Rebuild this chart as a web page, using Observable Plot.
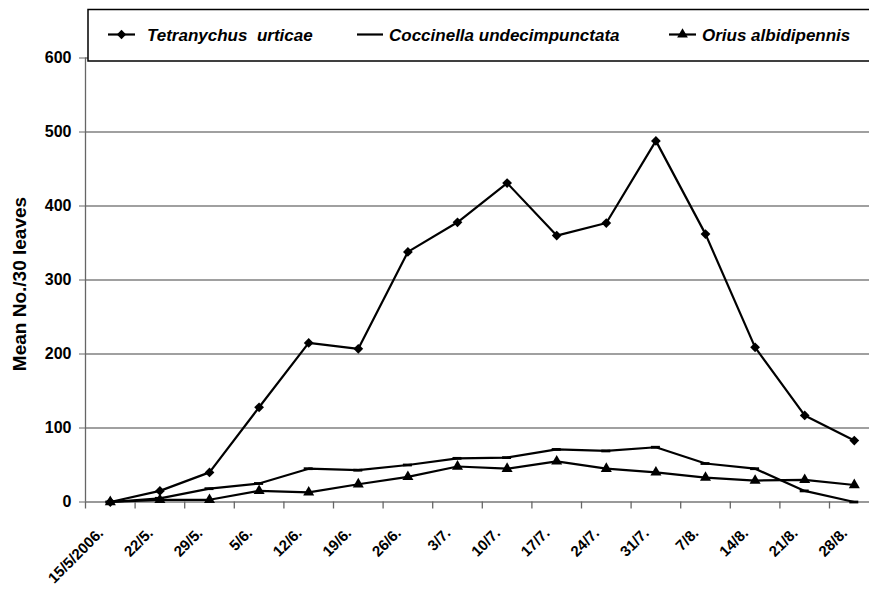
<!DOCTYPE html>
<html>
<head>
<meta charset="utf-8">
<script src="https://cdn.jsdelivr.net/npm/d3@7"></script>
<script src="https://cdn.jsdelivr.net/npm/@observablehq/plot@0.6"></script>
<style>
  html, body { margin: 0; padding: 0; background: white; overflow: hidden; }
  #wrap { position: relative; width: 869px; height: 591px; }
  #legend { position: absolute; left: 0; top: 0; pointer-events: none; }
</style>
</head>
<body>
<div id="wrap"></div>
<script>
// ---- data ----
const dates = ["15/5/2006.", "22/5.", "29/5.", "5/6.", "12/6.", "19/6.", "26/6.", "3/7.",
               "10/7.", "17/7.", "24/7.", "31/7.", "7/8.", "14/8.", "21/8.", "28/8."];
const seriesNames = ["Tetranychus  urticae", "Coccinella undecimpunctata", "Orius albidipennis"];
const tetranychus = [0, 15, 40, 128, 215, 207, 338, 378, 431, 360, 377, 488, 362, 209, 117, 83];
const coccinella  = [0, 5, 18, 25, 45, 43, 50, 59, 60, 71, 69, 74, 52, 45, 15, 0];
const orius       = [0, 3, 3, 15, 13, 24, 34, 48, 45, 55, 45, 40, 33, 29, 30, 23];
const yTicks = [0, 100, 200, 300, 400, 500, 600];
const yLabel = "Mean No./30 leaves";

const toRows = (vals) => vals.map((v, i) => ({date: dates[i], value: v}));
const tRows = toRows(tetranychus), cRows = toRows(coccinella), oRows = toRows(orius);

const W = 869, H = 591;
const mLeft = 85, mTop = 57.5, yBottom = 501.5;
const xRange = [mLeft, 878.6];
const bw = (xRange[1] - xRange[0]) / dates.length;
const font = "'Liberation Sans', Arial, sans-serif";

const chart = Plot.plot({
  width: W,
  height: H,
  marginLeft: mLeft,
  marginRight: 0,
  marginTop: mTop,
  marginBottom: H - yBottom,
  style: {fontFamily: font, fontSize: "16px", color: "black", background: "white"},
  x: {type: "band", domain: dates, range: xRange, padding: 0, round: false, axis: null},
  y: {domain: [0, 600], axis: null},
  marks: [
    Plot.ruleY(yTicks.filter(d => d > 0), {stroke: "#808080", strokeWidth: 1.3}),
    Plot.ruleY([0], {stroke: "#777", strokeWidth: 1.3}),
    Plot.ruleX([dates[0]], {x: d => d, dx: -bw / 2, y1: 0, y2: 600, stroke: "#666", strokeWidth: 1.3}),
    Plot.ruleX(dates, {x: d => d, dx: -bw / 2, y1: 0, y2: 0, insetBottom: -7, stroke: "#666", strokeWidth: 1.3}),
    Plot.axisY({ticks: yTicks, tickSize: 6, tickPadding: 8, stroke: "#666", fill: "black",
                fontSize: 16, fontWeight: "bold", label: null, tickFormat: d => d}),
    Plot.text([yLabel], {frameAnchor: "left", textAnchor: "middle", rotate: -90, dx: -66, dy: 4,
                         fontSize: 19, fontWeight: "bold", fill: "black"}),
    Plot.text(dates, {x: d => d, frameAnchor: "bottom", rotate: -45, textAnchor: "end", lineAnchor: "bottom",
                      dx: -6, dy: 32, fontSize: 15, fontWeight: "bold", fill: "black"}),
    Plot.line(cRows, {x: "date", y: "value", stroke: "black", strokeWidth: 2.2}),
    Plot.tickY(cRows, {x: "date", y: "value", stroke: "black", strokeWidth: 2.8, insetLeft: (bw - 9) / 2, insetRight: (bw - 9) / 2}),
    Plot.line(oRows, {x: "date", y: "value", stroke: "black", strokeWidth: 2.2}),
    Plot.dot(oRows, {x: "date", y: "value", symbol: "triangle", r: 4.1, fill: "black", stroke: "none"}),
    Plot.line(tRows, {x: "date", y: "value", stroke: "black", strokeWidth: 2.2}),
    Plot.dot(tRows, {x: "date", y: "value", symbol: "diamond2", r: 4.4, fill: "black", stroke: "none"})
  ]
});
document.getElementById("wrap").appendChild(chart);

// ---- legend overlay ----
const leg = d3.create("svg").attr("id", "legend").attr("width", W).attr("height", 70);
leg.append("rect").attr("x", 88).attr("y", 9.5).attr("width", 900).attr("height", 51.5)
  .attr("fill", "white").attr("stroke", "black").attr("stroke-width", 1.5);
const items = [
  {name: seriesNames[0], x0: 108, x1: 135, tx: 147, sym: d3.symbolDiamond2, size: 55},
  {name: seriesNames[1], x0: 357, x1: 383, tx: 389, sym: null},
  {name: seriesNames[2], x0: 669, x1: 696, tx: 702, sym: d3.symbolTriangle, size: 50}
];
const ly = 34.5;
for (const it of items) {
  leg.append("line").attr("x1", it.x0).attr("x2", it.x1).attr("y1", ly).attr("y2", ly)
    .attr("stroke", "black").attr("stroke-width", 2.2);
  if (it.sym) {
    leg.append("path").attr("d", d3.symbol(it.sym, it.size)())
      .attr("transform", `translate(${(it.x0 + it.x1) / 2},${ly})`).attr("fill", "black");
  }
  leg.append("text").attr("x", it.tx).attr("y", ly + 6.5)
    .attr("font-family", font).attr("font-size", 17).attr("font-weight", "bold")
    .attr("font-style", "italic").attr("xml:space", "preserve").style("white-space", "pre")
    .text(it.name);
}
document.getElementById("wrap").appendChild(leg.node());
</script>
</body>
</html>
